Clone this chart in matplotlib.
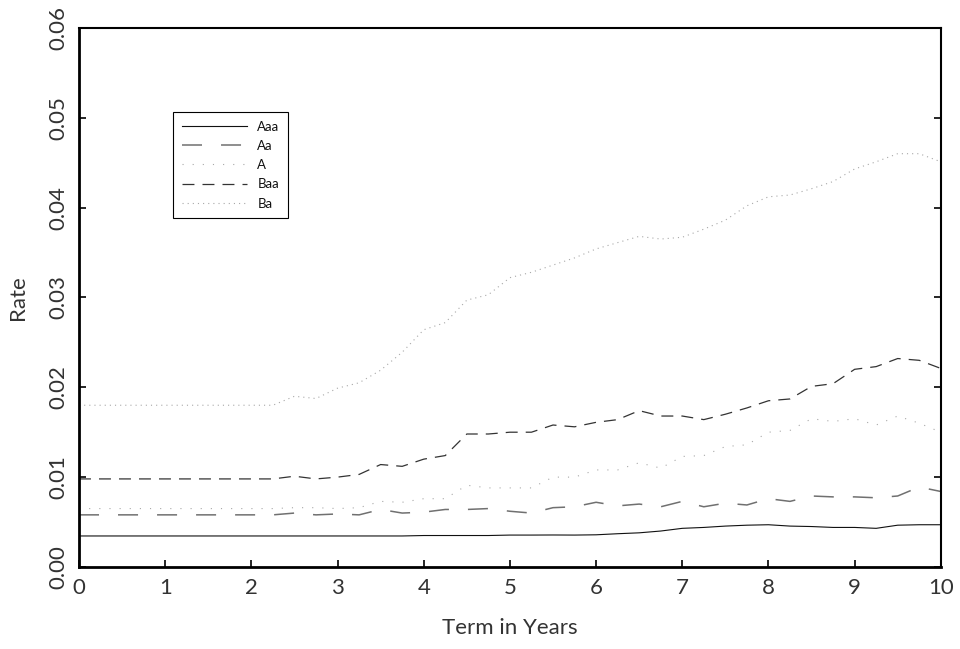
import numpy as np
import matplotlib
matplotlib.use('Agg')
import matplotlib.pyplot as plt

# term grid, quarterly from 0 to 10 years
term = np.arange(41) * 0.25

aaa = [0.00345] * 16 + [0.0035, 0.0035, 0.0035, 0.0035, 0.00355, 0.00355, 0.00356, 0.00355,
                        0.00358, 0.0037, 0.0038, 0.0040, 0.0043, 0.0044, 0.00455, 0.00465,
                        0.0047, 0.00455, 0.0045, 0.0044, 0.0044, 0.0043, 0.00465, 0.0047, 0.0047]
aa  = [0.0058] * 10 + [0.0060, 0.0058, 0.0059, 0.0058, 0.0064, 0.0060, 0.0061, 0.0064,
                       0.0064, 0.0065, 0.0062, 0.0060, 0.0066, 0.0067, 0.0072, 0.0068,
                       0.0070, 0.0067, 0.0073, 0.0067, 0.0071, 0.0069, 0.0076, 0.0073,
                       0.0079, 0.0078, 0.0078, 0.0077, 0.0079, 0.0089, 0.0084]
a   = [0.0065] * 10 + [0.0066, 0.0066, 0.0065, 0.0066, 0.0073, 0.0072, 0.0076, 0.0076,
                       0.0091, 0.0088, 0.0088, 0.0088, 0.0100, 0.0100, 0.0108, 0.0108,
                       0.0116, 0.0110, 0.0123, 0.0124, 0.0134, 0.0136, 0.0150, 0.0152,
                       0.0165, 0.0162, 0.0165, 0.0158, 0.0168, 0.0160, 0.0150]
baa = [0.0098] * 10 + [0.0101, 0.0098, 0.0100, 0.0103, 0.0114, 0.0112, 0.0120, 0.0124,
                       0.0148, 0.0148, 0.0150, 0.0150, 0.0158, 0.0156, 0.0161, 0.0164,
                       0.0174, 0.0168, 0.0168, 0.0164, 0.0170, 0.0177, 0.0185, 0.0187,
                       0.0201, 0.0204, 0.0220, 0.0223, 0.0232, 0.0230, 0.0221]
ba  = [0.0180] * 10 + [0.0190, 0.01875, 0.0199, 0.0205, 0.0219, 0.0239, 0.0264, 0.0272,
                       0.0297, 0.0303, 0.0322, 0.0328, 0.0336, 0.0344, 0.0354, 0.0361,
                       0.0368, 0.0365, 0.0367, 0.0376, 0.0386, 0.0402, 0.0412, 0.0414,
                       0.0421, 0.0429, 0.0443, 0.0451, 0.0460, 0.0460, 0.0451]

labels = ['Aaa', 'Aa', 'A', 'Baa', 'Ba']
series = [aaa, aa, a, baa, ba]
colours = ['#111111', '#707070', '#a8a8a8', '#333333', '#a8a8a8']
styles = ['-', (0, (14.4, 13.7)), (0, (0.8, 6.5)), (0, (8.6, 5.8)), (0, (0.8, 2.9))]
widths = [0.8, 1.1, 0.8, 0.9, 0.8]

plt.rcParams['lines.scale_dashes'] = False
plt.rcParams['font.family'] = ['Lato', 'DejaVu Sans']
txt = '#333333'

fig = plt.figure(figsize=(9.6, 6.49), dpi=100)
ax = fig.add_axes([0.0823, 0.1264, 0.8977, 0.8306])

for y, lab, c, ls, lw in zip(series, labels, colours, styles, widths):
    ax.plot(term, y, color=c, linestyle=ls, linewidth=lw, label=lab)

ax.set_xlim(0, 10)
ax.set_ylim(0, 0.06)
ax.set_xticks(range(11))
ax.set_yticks([0.0, 0.01, 0.02, 0.03, 0.04, 0.05, 0.06])
ax.set_yticklabels(['0.00', '0.01', '0.02', '0.03', '0.04', '0.05', '0.06'],
                   rotation=90, va='center')
ax.tick_params(axis='both', direction='in', length=5, width=1.2, labelsize=16,
               labelcolor=txt, pad=8)
ax.tick_params(axis='y', right=True, left=True)
ax.tick_params(axis='x', top=False)
for side, s in ax.spines.items():
    s.set_linewidth(2.0 if side in ('left', 'bottom') else 1.5)

ax.set_xlabel('Term in Years', fontsize=16, color=txt, labelpad=14)
ax.set_ylabel('Rate', fontsize=16, color=txt, labelpad=14)

leg = ax.legend(loc='upper left', bbox_to_anchor=(0.109, 0.844), borderaxespad=0,
                fontsize=9.5, handlelength=5.0, handletextpad=0.75, labelspacing=0.55,
                fancybox=False, framealpha=1, edgecolor='black', borderpad=0.65)
leg.get_frame().set_linewidth(0.8)
for t in leg.get_texts():
    t.set_color('#111111')

fig.savefig('out.png', dpi=100)
